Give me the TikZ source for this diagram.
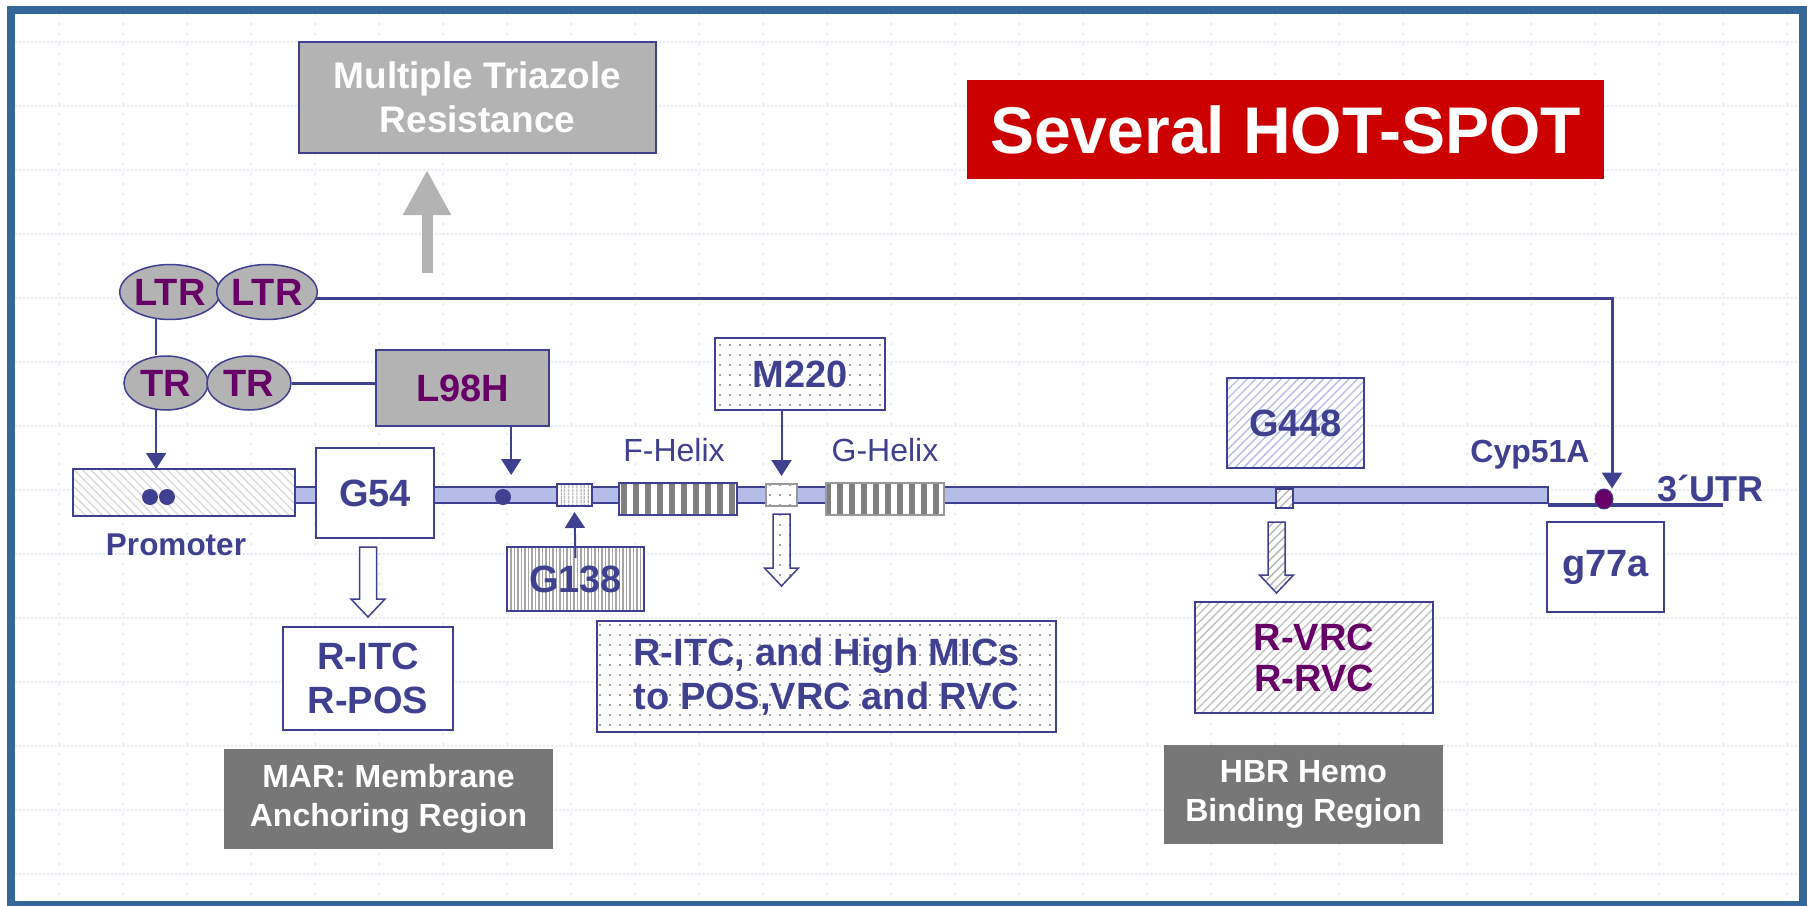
\documentclass[tikz,border=0pt]{standalone}
\usepackage{fontspec}
\setmainfont{Liberation Sans}
\usetikzlibrary{arrows.meta}
\usetikzlibrary{calc}
\usetikzlibrary{patterns.meta}
\usetikzlibrary{shapes.geometric}

\definecolor{cframe}{HTML}{336699}
\definecolor{cline}{HTML}{404090}
\definecolor{cpurple}{HTML}{660066}
\definecolor{cbar}{HTML}{B3BDE8}
\definecolor{cgray}{HTML}{B3B3B3}
\definecolor{cdark}{HTML}{777777}
\definecolor{cred}{HTML}{CC0000}
\definecolor{cgrid}{HTML}{E8EAF4}

\tikzset{
  box/.style={draw=cline, line width=1.5pt, inner sep=0pt, outer sep=0pt,
    anchor=north west, align=center, text=cline,
    font=\bfseries\fontsize{38}{44}\selectfont},
  sz/.style 2 args={minimum width=#1, minimum height=#2},
  graybox/.style={box, fill=cgray},
  regbox/.style={box, draw=none, fill=cdark, text=white,
    font=\bfseries\fontsize{32}{38.5}\selectfont},
  oval/.style={ellipse, draw=cline, line width=1.5pt, fill=cgray, inner sep=0pt,
    text=cpurple, font=\bfseries\fontsize{38}{40}\selectfont},
  dotfill/.style={preaction={fill=white},
    pattern={Dots[distance=10pt,radius=1.2pt]}, pattern color=black!50},
  hatch/.style 2 args={preaction={fill=white},
    pattern={Lines[angle=#1,distance=6pt,line width=1.3pt]}, pattern color=#2},
  stripes/.style n args={3}{preaction={fill=white},
    pattern={Lines[angle=90,distance=#1,line width=#2]}, pattern color=#3},
  blob/.style={circle, fill=cline, inner sep=0pt, minimum size=16pt},
  lbl/.style={inner sep=0pt, text=cline, font=\bfseries\fontsize{31.5}{36}\selectfont},
  link/.style={draw=cline, line width=2pt},
  arr/.style={link, -{Triangle[width=20pt,length=16pt]}},
  blockline/.style={draw=cline, line width=1.5pt},
  upgray/.style={draw=cgray, line width=11pt, -{Triangle[width=45pt,length=45pt]}},
  gridh/.style={draw=cgrid, line width=1.2pt, dash pattern=on 2pt off 2pt},
  gridv/.style={draw=cgrid, line width=1.2pt, dash pattern=on 2pt off 8pt}
}

\newcommand{\blockarrow}[3]{%
  \draw[#1] let \p1=#2, \p2=#3 in
    (\x1-8.5pt,\y1) -- (\x1+8.5pt,\y1) -- (\x1+8.5pt,\y2+18pt) -- (\x1+17pt,\y2+18pt)
    -- (\x1,\y2) -- (\x1-17pt,\y2+18pt) -- (\x1-8.5pt,\y2+18pt) -- cycle;}

\begin{document}
\begin{tikzpicture}[x=1pt,y=-1pt]
      \useasboundingbox (0,0) rectangle (1807,905);
      \foreach \gy in {42,106,...,874}
        \draw[gridh] (15,\gy) -- (1799,\gy);
      \foreach \gx in {59,123,...,1787}
        \draw[gridv] (\gx,13) -- (\gx,901);
      \draw[cframe, line width=8pt] (11,9.5) rectangle (1803,905);

      \node[graybox, sz={357}{111}, text=white,
        font=\bfseries\fontsize{37}{44}\selectfont] (mtr) at (299,42) {Multiple Triazole\\Resistance};
      \coordinate (upfoot) at (427,273);
      \draw[upgray] (upfoot) -- ++(0,-103);
      \node[box, sz={637}{99}, draw=none, fill=cred, text=white,
        font=\bfseries\fontsize{66}{70}\selectfont] (hot) at (967,80) {Several HOT-SPOT};

      \node[oval, sz={95}{55}] (ltra) at (170,292) {LTR};
      \node[oval, sz={95}{55}] (ltrb) at (267,292) {LTR};
      \node[oval, sz={84}{54}] (tra) at (166,383) {TR};
      \node[oval, sz={84}{54}] (trb) at (249,383) {TR};
      \node[graybox, sz={173}{76}, text=cpurple] (lh) at (376,350) {L98H};

      \node[box, sz={1258}{16}, fill=cbar] (bar) at (290,487) {};
      \node[box, sz={222}{47}, hatch={-45}{black!15}] (prom) at (73,469) {};
      \node[blob] (pda) at (150,497) {};
      \node[blob] (pdb) at (167,497) {};
      \node[lbl] (promlbl) at (176,545) {Promoter};
      \node[box, sz={118}{90}, fill=white] (gfs) at (316,448) {G54};
      \node[blob] (dota) at (503,497) {};
      \node[box, sz={35}{22}, stripes={4pt}{1.2pt}{black!40}] (gbar) at (557,484) {};
      \node[box, sz={118}{32}, stripes={12pt}{6pt}{black!50}] (fhx) at (619,483) {};
      \node[lbl, font=\fontsize{32}{36}\selectfont] (fhxlbl) at (674,450) {F-Helix};
      \node[box, sz={31}{22}, draw=black!40, dotfill] (mbar) at (766,484) {};
      \node[box, sz={118}{32}, draw=black!40, stripes={12pt}{6pt}{black!50}] (ghx) at (826,483) {};
      \node[lbl, font=\fontsize{32}{36}\selectfont] (ghxlbl) at (885,450) {G-Helix};
      \node[box, sz={17}{19}, hatch={45}{black!30}] (gsbar) at (1276,489) {};

      \node[box, sz={170}{72}, dotfill] (m220) at (715,338) {M220};
      \node[box, sz={137}{64}, stripes={3.5pt}{1.4pt}{black!35}] (g138) at (507,547) {G138};
      \node[box, sz={170}{103}, fill=white] (ritc) at (283,627) {R-ITC\\R-POS};
      \node[regbox, sz={329}{100}] (mar) at (224,749) {MAR: Membrane\\Anchoring Region};
      \node[box, sz={459}{111}, dotfill] (mic) at (597,621) {R-ITC, and High MICs\\to POS,VRC and RVC};
      \node[box, sz={137}{90}, hatch={45}{cbar}] (g448) at (1227,378) {G448};
      \node[box, sz={238}{111}, hatch={45}{black!25}, text=cpurple,
        font=\bfseries\fontsize{38}{41}\selectfont] (rvrc) at (1195,602) {R-VRC\\R-RVC};
      \node[regbox, sz={279}{99}] (hbr) at (1164,745) {HBR Hemo\\Binding Region};

      \node[lbl, font=\bfseries\fontsize{32}{36}\selectfont] (cyplbl) at (1530,455) {Cyp51A};
      \node[lbl, font=\bfseries\fontsize{36}{40}\selectfont] (utrlbl) at (1710,488) {3´UTR};
      \coordinate (utrbeg) at (1548,505);
      \coordinate (utrend) at (1723,505);
      \draw[link, line width=4pt] (utrbeg) -- (utrend);
      \node[ellipse, fill=cpurple, draw=cline, line width=1pt, inner sep=0pt,
        minimum width=18pt, minimum height=20pt] (utrdot) at (1604,499) {};
      \node[box, sz={117}{90}, fill=white] (gsa) at (1547,522) {g77a};

      \draw[link] (ltra.-117) -- (ltra.-117 |- tra.north);
      \draw[arr] (tra.-110) -- (tra.-110 |- prom.north);
      \draw[link, line width=3pt] (trb.east) -- (trb.east -| lh.west);
      \draw[arr] (lh.south -| dota.east) -- ($(dota.east)+(0,-22)$);
      \draw[arr] (m220.south -| mbar.north) -- ($(mbar.north)+(0,-8)$);
      \draw[arr] ($(g138.north)+(0,11)$) -- ($(gbar.south)+(0,6)$);
      \draw[arr, line width=3pt] (ltrb.-8) -| ($(utrdot.north)+(8,0)$);

      \blockarrow{blockline, fill=white}{($(ritc.north |- gfs.south)+(0,9)$)}{($(ritc.north)+(0,-10)$)}
      \blockarrow{blockline, dotfill}{($(mbar.south)+(0,8)$)}{($(mbar.south)+(0,80)$)}
      \blockarrow{blockline, hatch={45}{black!30}}{($(gsbar.south)+(-8,14)$)}{($(gsbar.south)+(-8,85)$)}
\end{tikzpicture}
\end{document}
